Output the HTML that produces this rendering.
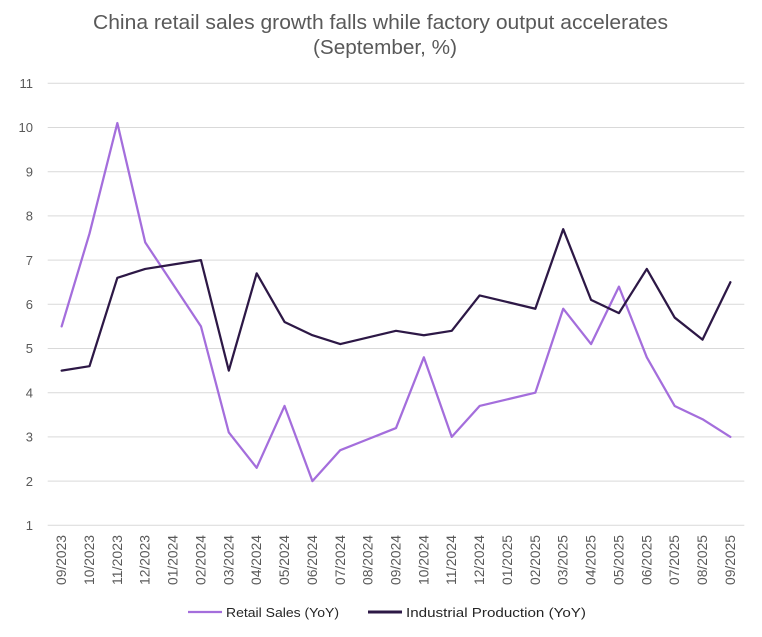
<!DOCTYPE html>
<html>
<head>
<meta charset="utf-8">
<style>
  html, body { margin: 0; padding: 0; background: #ffffff; }
  svg { display: block; }
  text { font-family: "Liberation Sans", "DejaVu Sans", sans-serif; }
</style>
</head>
<body>
<svg width="762" height="637" viewBox="0 0 762 637" xmlns="http://www.w3.org/2000/svg">
  <rect x="0" y="0" width="762" height="637" fill="#ffffff"/>

  <!-- Title -->
  <text x="380.5" y="29" font-size="20" fill="#595959" text-anchor="middle" textLength="575" lengthAdjust="spacingAndGlyphs">China retail sales growth falls while factory output accelerates</text>
  <text x="385" y="54" font-size="20" fill="#595959" text-anchor="middle" textLength="144" lengthAdjust="spacingAndGlyphs">(September, %)</text>

  <!-- Gridlines -->
  <g stroke="#d9d9d9" stroke-width="1">
    <line x1="47.7" y1="525.3" x2="744.3" y2="525.3"/>
    <line x1="47.7" y1="481.1" x2="744.3" y2="481.1"/>
    <line x1="47.7" y1="436.9" x2="744.3" y2="436.9"/>
    <line x1="47.7" y1="392.7" x2="744.3" y2="392.7"/>
    <line x1="47.7" y1="348.5" x2="744.3" y2="348.5"/>
    <line x1="47.7" y1="304.3" x2="744.3" y2="304.3"/>
    <line x1="47.7" y1="260.1" x2="744.3" y2="260.1"/>
    <line x1="47.7" y1="215.9" x2="744.3" y2="215.9"/>
    <line x1="47.7" y1="171.7" x2="744.3" y2="171.7"/>
    <line x1="47.7" y1="127.5" x2="744.3" y2="127.5"/>
    <line x1="47.7" y1="83.3" x2="744.3" y2="83.3"/>
  </g>

  <!-- Y labels -->
  <g font-size="13" fill="#595959" text-anchor="end">
    <text x="33" y="530">1</text>
    <text x="33" y="485.8">2</text>
    <text x="33" y="441.6">3</text>
    <text x="33" y="397.4">4</text>
    <text x="33" y="353.2">5</text>
    <text x="33" y="309">6</text>
    <text x="33" y="264.8">7</text>
    <text x="33" y="220.6">8</text>
    <text x="33" y="176.4">9</text>
    <text x="33" y="132.2">10</text>
    <text x="33" y="88">11</text>
  </g>

  <!-- X labels -->
  <g font-size="13.5" fill="#595959" text-anchor="end">
    <text transform="translate(66.1,535) rotate(-90)" textLength="50" lengthAdjust="spacingAndGlyphs">09/2023</text>
    <text transform="translate(94.0,535) rotate(-90)" textLength="50" lengthAdjust="spacingAndGlyphs">10/2023</text>
    <text transform="translate(121.9,535) rotate(-90)" textLength="50" lengthAdjust="spacingAndGlyphs">11/2023</text>
    <text transform="translate(149.7,535) rotate(-90)" textLength="50" lengthAdjust="spacingAndGlyphs">12/2023</text>
    <text transform="translate(177.6,535) rotate(-90)" textLength="50" lengthAdjust="spacingAndGlyphs">01/2024</text>
    <text transform="translate(205.5,535) rotate(-90)" textLength="50" lengthAdjust="spacingAndGlyphs">02/2024</text>
    <text transform="translate(233.3,535) rotate(-90)" textLength="50" lengthAdjust="spacingAndGlyphs">03/2024</text>
    <text transform="translate(261.2,535) rotate(-90)" textLength="50" lengthAdjust="spacingAndGlyphs">04/2024</text>
    <text transform="translate(289.0,535) rotate(-90)" textLength="50" lengthAdjust="spacingAndGlyphs">05/2024</text>
    <text transform="translate(316.9,535) rotate(-90)" textLength="50" lengthAdjust="spacingAndGlyphs">06/2024</text>
    <text transform="translate(344.8,535) rotate(-90)" textLength="50" lengthAdjust="spacingAndGlyphs">07/2024</text>
    <text transform="translate(372.6,535) rotate(-90)" textLength="50" lengthAdjust="spacingAndGlyphs">08/2024</text>
    <text transform="translate(400.5,535) rotate(-90)" textLength="50" lengthAdjust="spacingAndGlyphs">09/2024</text>
    <text transform="translate(428.4,535) rotate(-90)" textLength="50" lengthAdjust="spacingAndGlyphs">10/2024</text>
    <text transform="translate(456.2,535) rotate(-90)" textLength="50" lengthAdjust="spacingAndGlyphs">11/2024</text>
    <text transform="translate(484.1,535) rotate(-90)" textLength="50" lengthAdjust="spacingAndGlyphs">12/2024</text>
    <text transform="translate(512.0,535) rotate(-90)" textLength="50" lengthAdjust="spacingAndGlyphs">01/2025</text>
    <text transform="translate(539.8,535) rotate(-90)" textLength="50" lengthAdjust="spacingAndGlyphs">02/2025</text>
    <text transform="translate(567.7,535) rotate(-90)" textLength="50" lengthAdjust="spacingAndGlyphs">03/2025</text>
    <text transform="translate(595.6,535) rotate(-90)" textLength="50" lengthAdjust="spacingAndGlyphs">04/2025</text>
    <text transform="translate(623.4,535) rotate(-90)" textLength="50" lengthAdjust="spacingAndGlyphs">05/2025</text>
    <text transform="translate(651.3,535) rotate(-90)" textLength="50" lengthAdjust="spacingAndGlyphs">06/2025</text>
    <text transform="translate(679.2,535) rotate(-90)" textLength="50" lengthAdjust="spacingAndGlyphs">07/2025</text>
    <text transform="translate(707.0,535) rotate(-90)" textLength="50" lengthAdjust="spacingAndGlyphs">08/2025</text>
    <text transform="translate(734.9,535) rotate(-90)" textLength="50" lengthAdjust="spacingAndGlyphs">09/2025</text>
  </g>

  <!-- Retail Sales -->
  <polyline fill="none" stroke="#a46edc" stroke-width="2.25" stroke-linejoin="round" stroke-linecap="round"
    points="61.63,326.4 89.50,233.58 117.36,123.08 145.22,242.42 173.09,284.41 200.95,326.4 228.82,432.48 256.68,467.84 284.55,405.96 312.41,481.1 340.28,450.16 368.14,439.11 396.01,428.06 423.87,357.34 451.74,436.9 479.60,405.96 507.47,399.33 535.33,392.7 563.20,308.72 591.06,344.08 618.93,286.62 646.79,357.34 674.66,405.96 702.52,419.22 730.39,436.9"/>

  <!-- Industrial Production -->
  <polyline fill="none" stroke="#2d1846" stroke-width="2.25" stroke-linejoin="round" stroke-linecap="round"
    points="61.63,370.6 89.50,366.18 117.36,277.78 145.22,268.94 173.09,264.52 200.95,260.1 228.82,370.6 256.68,273.36 284.55,321.98 312.41,335.24 340.28,344.08 368.14,337.45 396.01,330.82 423.87,335.24 451.74,330.82 479.60,295.46 507.47,302.09 535.33,308.72 563.20,229.16 591.06,299.88 618.93,313.14 646.79,268.94 674.66,317.56 702.52,339.66 730.39,282.2"/>

  <!-- Legend -->
  <line x1="188" y1="612" x2="222" y2="612" stroke="#a46edc" stroke-width="2.25"/>
  <text x="226" y="617" font-size="13" fill="#262626" textLength="113" lengthAdjust="spacingAndGlyphs">Retail Sales (YoY)</text>
  <line x1="368" y1="612" x2="402" y2="612" stroke="#2d1846" stroke-width="3"/>
  <text x="406" y="617" font-size="13" fill="#262626" textLength="180" lengthAdjust="spacingAndGlyphs">Industrial Production (YoY)</text>
</svg>
</body>
</html>
